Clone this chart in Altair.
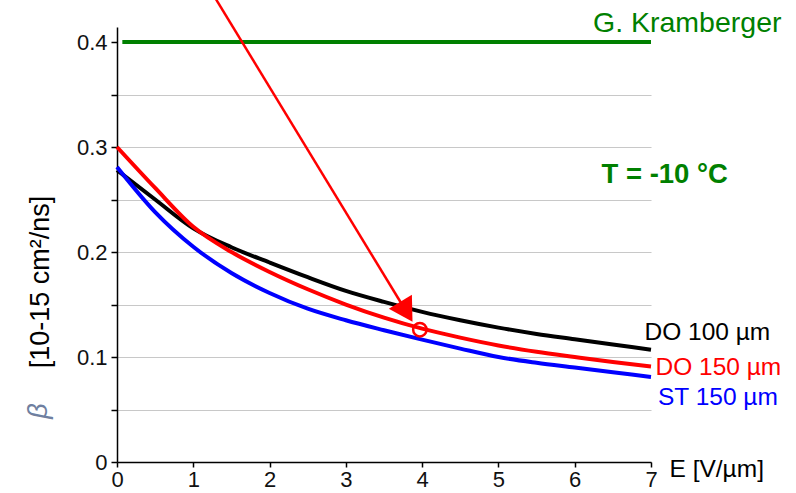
import altair as alt
import pandas as pd

# ---- data ----
E_vals = [0, 0.5, 1, 1.5, 2, 2.5, 3, 3.5, 4, 4.5, 5, 5.5, 6, 6.5, 7]
do100 = [0.278, 0.250, 0.2225, 0.2045, 0.190, 0.176, 0.163, 0.1525, 0.143, 0.135, 0.128, 0.122, 0.117, 0.112, 0.107]
do150 = [0.300, 0.261, 0.224, 0.200, 0.181, 0.1645, 0.150, 0.1375, 0.127, 0.1185, 0.111, 0.105, 0.100, 0.0952, 0.091]
st150 = [0.281, 0.238, 0.205, 0.180, 0.161, 0.146, 0.135, 0.1255, 0.1165, 0.108, 0.100, 0.0945, 0.090, 0.0855, 0.081]
series_names = ["DO 100 µm", "DO 150 µm", "ST 150 µm"]
series_colors = ["#000000", "#ff0000", "#0000ff"]

kramberger_E = [0.07, 7.0]
kramberger_beta = 0.4

marker_E = [3.97]
marker_beta = [0.126]

arrow_start = [1.22, 0.45]
arrow_head = [3.794, 0.1431]

y_ticks = [0, 0.05, 0.1, 0.15, 0.2, 0.25, 0.3, 0.35, 0.4]
x_ticks = [0, 1, 2, 3, 4, 5, 6, 7]

FONT = "Liberation Sans, Arial, sans-serif"

rows = []
for name, vals in zip(series_names, [do100, do150, st150]):
    for e, b in zip(E_vals, vals):
        rows.append({"E": e, "beta": b, "series": name})
df = pd.DataFrame(rows)

xscale = alt.Scale(domain=[0, 7], nice=False, zero=False)
yscale = alt.Scale(domain=[0, 0.4143], nice=False, zero=False)

xaxis = alt.Axis(values=x_ticks, title=None, grid=False, tickSize=5, labelFontSize=22,
                 labelPadding=2, labelFont=FONT, labelColor="#111", domainColor="#000",
                 tickColor="#000", domainWidth=1.5, tickWidth=1.5, labelFlush=False, format="d")
yaxis = alt.Axis(values=y_ticks, title=None, grid=True,
                 gridColor={"condition": {"test": "datum.value > 0.39", "value": "transparent"},
                            "value": "#c8c8c8"},
                 gridWidth=1.2,
                 tickSize=6, labelFontSize=22, labelPadding=4, labelFont=FONT, labelColor="#111",
                 domainColor="#000", tickColor="#000", domainWidth=1.5, tickWidth=1.5,
                 format=".1~f",
                 labelExpr="abs(datum.value*10 - round(datum.value*10)) < 0.001 ? datum.label : ''")


def X(field):
    return alt.X(field, type="quantitative", scale=xscale, axis=xaxis)


def Y(field):
    return alt.Y(field, type="quantitative", scale=yscale, axis=yaxis)


lines = alt.Chart(df).mark_line(strokeWidth=4, interpolate="monotone").encode(
    x=X("E"),
    y=Y("beta"),
    color=alt.Color("series:N", scale=alt.Scale(domain=series_names, range=series_colors), legend=None),
)

green_df = pd.DataFrame({"x": [kramberger_E[0]], "x2": [kramberger_E[1]], "y": [kramberger_beta]})
green = alt.Chart(green_df).mark_rule(color="#008000", strokeWidth=4).encode(
    x=X("x"), x2="x2:Q", y=Y("y"))

arrow_df = pd.DataFrame({"x": [arrow_start[0]], "y": [arrow_start[1]],
                         "x2": [arrow_head[0]], "y2": [arrow_head[1]]})
arrow_line = alt.Chart(arrow_df).mark_rule(color="#ff0000", strokeWidth=2.5, clip=False).encode(
    x=X("x"), y=Y("y"), x2="x2:Q", y2="y2:Q")

head_df = pd.DataFrame({"x": [arrow_head[0]], "y": [arrow_head[1]]})
arrow_tip = alt.Chart(head_df).mark_point(shape="triangle-up", filled=True, size=729, angle=148.7,
                                          color="#ff0000", opacity=1).encode(x=X("x"), y=Y("y"))

marker_df = pd.DataFrame({"x": marker_E, "y": marker_beta})
marker = alt.Chart(marker_df).mark_point(shape="circle", filled=False, size=180, strokeWidth=2.5,
                                         color="#ff0000", opacity=1).encode(x=X("x"), y=Y("y"))


def label(txt, px, py, color="#000", size=24, weight="normal", style="normal", angle=0, align="left"):
    return alt.Chart(pd.DataFrame({"t": [txt]})).mark_text(
        font=FONT, fontSize=size, fontWeight=weight, fontStyle=style, color=color,
        align=align, baseline="alphabetic", angle=angle,
    ).encode(text="t:N", x=alt.value(px), y=alt.value(py))


texts = [
    label(series_names[0], 527.5, 312.5, "#000000", size=24.5),
    label(series_names[1], 538.5, 347.5, "#ff0000", size=24.5),
    label(series_names[2], 541, 377.5, "#0000ff", size=24.5),
    label("E [V/µm]", 552.5, 449.5, "#000000", size=24.5),
    label("G. Kramberger", 476, 5, "#008000", size=28.5),
    label("T = -10 °C", 484.5, 156, "#008000", size=27.5, weight="bold"),
    label("[10-15 cm²/ns]", -68, 255, "#000000", size=27, angle=270, align="center"),
    label("β", -70, 384, "#6f7fa0", size=27, style="italic", angle=270, align="center"),
]

chart = alt.layer(green, lines, arrow_line, arrow_tip, marker, *texts).properties(
    width=534, height=435,
    autosize=alt.AutoSizeParams(type="none"),
    padding={"left": 117, "top": 27, "right": 145, "bottom": 31},
    background="white",
).configure_view(stroke="transparent", strokeWidth=0).configure_axisX(grid=False)

chart.save("out.html", embed_options={"renderer": "svg", "actions": False})
